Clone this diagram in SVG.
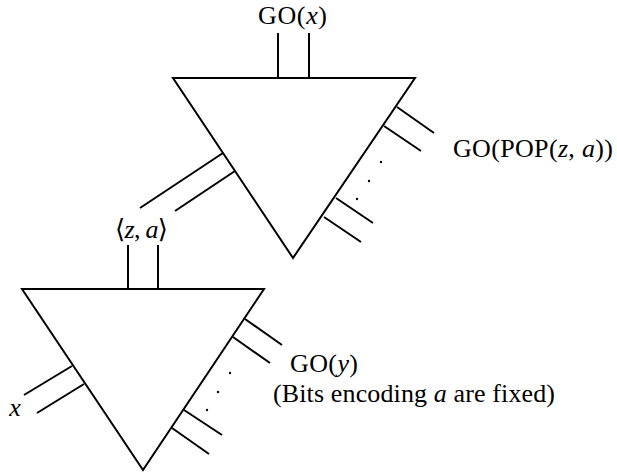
<svg xmlns="http://www.w3.org/2000/svg" width="617" height="472" viewBox="0 0 617 472">
<style>
.tri{fill:none;stroke:#000;stroke-width:2;stroke-linejoin:miter}
.w{stroke:#000;stroke-width:2;fill:none}
.i{font-style:italic}
.dot{fill:#000}
</style>
<rect width="617" height="472" fill="#fff"/>
<g id="top-gadget">
<polygon class="tri" points="173,78 415,78 293,258"/>
</g>
<g id="bottom-gadget">
<polygon class="tri" points="22,289 264,289 143,470"/>
</g>
<g id="connectors">
<line class="w" x1="278" y1="33" x2="278" y2="78"/>
<line class="w" x1="309" y1="33" x2="309" y2="78"/>
<line class="w" x1="397" y1="107" x2="434" y2="133"/>
<line class="w" x1="384" y1="126" x2="421" y2="151"/>
<line class="w" x1="336" y1="198" x2="373" y2="223"/>
<line class="w" x1="324" y1="217" x2="361" y2="242"/>
<line class="w" x1="223" y1="153" x2="140" y2="208"/>
<line class="w" x1="235" y1="171" x2="175" y2="211"/>
<line class="w" x1="128" y1="245" x2="128" y2="289"/>
<line class="w" x1="158" y1="245" x2="158" y2="289"/>
<line class="w" x1="245" y1="319" x2="282" y2="345"/>
<line class="w" x1="233" y1="337" x2="270" y2="363"/>
<line class="w" x1="184" y1="410" x2="222" y2="435"/>
<line class="w" x1="172" y1="428" x2="209" y2="454"/>
<line class="w" x1="72" y1="366" x2="24" y2="395"/>
<line class="w" x1="84" y1="384" x2="37" y2="413"/>
</g>
<g id="dots">
<circle class="dot" cx="381" cy="162" r="1.2"/>
<circle class="dot" cx="369" cy="181" r="1.2"/>
<circle class="dot" cx="357" cy="199" r="1.2"/>
<circle class="dot" cx="230" cy="373" r="1.2"/>
<circle class="dot" cx="218" cy="392" r="1.2"/>
<circle class="dot" cx="207" cy="410" r="1.2"/>
</g>
<g id="labels" font-family="'Liberation Serif', 'DejaVu Serif', serif" font-size="26" fill="#000">
<text x="258" y="24" textLength="69" lengthAdjust="spacing">GO(<tspan class="i">x</tspan>)</text>
<text x="453" y="157" textLength="160" lengthAdjust="spacing">GO(POP(<tspan class="i">z</tspan>, <tspan class="i">a</tspan>))</text>
<text x="115" y="238" textLength="53" lengthAdjust="spacing">⟨<tspan class="i">z</tspan>, <tspan class="i">a</tspan>⟩</text>
<text x="290" y="372" textLength="68" lengthAdjust="spacing">GO(<tspan class="i">y</tspan>)</text>
<text x="273" y="402" textLength="282" lengthAdjust="spacing">(Bits encoding <tspan class="i">a</tspan> are fixed)</text>
<text class="i" x="15" y="416" text-anchor="middle">x</text>
</g>
</svg>
